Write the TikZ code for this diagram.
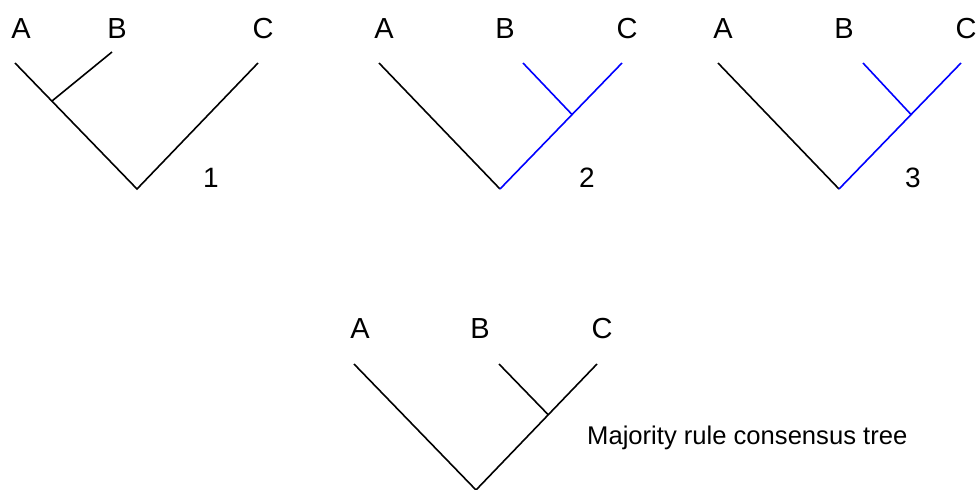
\documentclass[tikz,border=0pt]{standalone}
\usepackage{fontspec}
\setmainfont{Liberation Sans}
\begin{document}
\begin{tikzpicture}[x=1pt,y=-1pt,
  taxon/.style={inner sep=0pt,font=\fontsize{29}{32}\selectfont},
  treenum/.style={inner sep=0pt,font=\fontsize{28}{32}\selectfont},
  branch/.style={line width=1.6pt,black},
  clade/.style={line width=1.6pt,blue}]
\useasboundingbox (0,0) rectangle (978,490);

% ---- tree 1: ((A,B),C)
\node[taxon] (a1) at (21,29) {A};
\node[taxon] (b1) at (117,29) {B};
\node[taxon] (c1) at (263,29) {C};
\node[treenum] (n1) at (211,178) {1};
\coordinate (a1t) at (15,63);
\coordinate (b1t) at (112,52);
\coordinate (c1t) at (258,63);
\coordinate (j1) at (52,101);
\coordinate (r1) at (137,189);
\draw[branch] (a1t) -- (r1) -- (c1t);
\draw[branch] (b1t) -- (j1);

% ---- tree 2: (A,(B,C))
\node[taxon] (a2) at (384,29) {A};
\node[taxon] (b2) at (505,29) {B};
\node[taxon] (c2) at (627,29) {C};
\node[treenum] (n2) at (587,178) {2};
\coordinate (a2t) at (379,63);
\coordinate (b2t) at (523,63);
\coordinate (c2t) at (622,63);
\coordinate (j2) at (572,114.5);
\coordinate (r2) at (500,189);
\draw[branch] (a2t) -- (r2);
\draw[clade] (r2) -- (c2t);
\draw[clade] (b2t) -- (j2);

% ---- tree 3: (A,(B,C))
\node[taxon] (a3) at (723,29) {A};
\node[taxon] (b3) at (844,29) {B};
\node[taxon] (c3) at (966,29) {C};
\node[treenum] (n3) at (913,178) {3};
\coordinate (a3t) at (718,63);
\coordinate (b3t) at (863,63);
\coordinate (c3t) at (961,63);
\coordinate (j3) at (911,114.5);
\coordinate (r3) at (839,189);
\draw[branch] (a3t) -- (r3);
\draw[clade] (r3) -- (c3t);
\draw[clade] (b3t) -- (j3);

% ---- consensus tree
\node[taxon] (a4) at (360,329) {A};
\node[taxon] (b4) at (480,329) {B};
\node[taxon] (c4) at (602,329) {C};
\coordinate (a4t) at (354,364);
\coordinate (b4t) at (499,364);
\coordinate (c4t) at (597,364);
\coordinate (j4) at (548,414.5);
\coordinate (r4) at (476,490);
\draw[branch] (a4t) -- (r4) -- (c4t);
\draw[branch] (b4t) -- (j4);
\node[inner sep=0pt,anchor=base west,font=\fontsize{25.6}{30}\selectfont] (cap) at (587,444) {Majority rule consensus tree};
\end{tikzpicture}
\end{document}
